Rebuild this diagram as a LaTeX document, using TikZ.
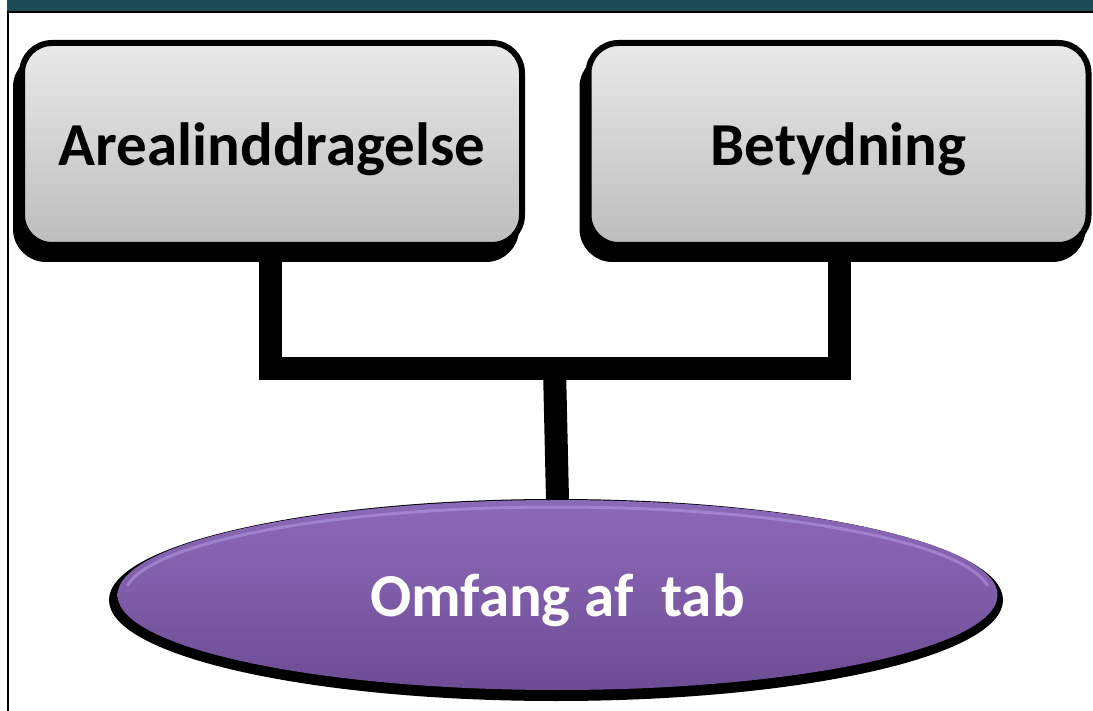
\documentclass[tikz,border=0pt]{standalone}
\usepackage{fontspec}
\setmainfont{Carlito}
\definecolor{barteal}{HTML}{1D4C56}
\definecolor{boxtop}{HTML}{E9E9E9}
\definecolor{boxbot}{HTML}{BDBDBD}
\definecolor{purtop}{HTML}{8A69B8}
\definecolor{purmid}{HTML}{7E5CA8}
\definecolor{purbot}{HTML}{6C4C94}
\definecolor{purrim}{HTML}{B69BE2}
\tikzset{
  topicbox/.style={
    rectangle, rounded corners=30pt, draw=black, line width=6pt,
    top color=boxtop, bottom color=boxbot,
    minimum width=500pt, minimum height=202pt, inner sep=0pt,
    text depth=0pt,
    font=\fontsize{61}{63}\selectfont\bfseries, text=black,
    preaction={fill=black, draw=black, line width=6pt,
      transform canvas={xshift=-6pt, yshift=-14pt}}},
  resultnode/.style={
    ellipse, draw=none, inner sep=0pt, text depth=0pt,
    minimum width=880pt, minimum height=190pt,
    top color=purtop, bottom color=purbot, middle color=purmid,
    font=\fontsize{61}{63}\selectfont\bfseries, text=white},
  link/.style={draw=black, line width=23pt}
}
\usetikzlibrary{shapes.geometric}
\begin{document}
\begin{tikzpicture}[x=1pt, y=-1pt]
  \useasboundingbox (0,0) rectangle (1093,711);
  % title bar and frame
  \fill[barteal] (7,0) rectangle (1093,12);
  \fill[black] (7,11) rectangle (1093,13.5);
  \fill[black] (7,11) rectangle (9.3,711);

  % junction of the tree
  \coordinate (J) at (554.5,368.5);

  % result ellipse with its dark shadow
  \fill[black] (556,600) ellipse [x radius=447, y radius=101];
  \node[resultnode] (E) at (557.5,595) {Omfang af\ \ tab};

  % soft rim light along the upper edge of the ellipse
  \begin{scope}
    \clip (100,480) rectangle (1010,585);
    \draw[purrim, line width=3pt, opacity=0.55] (557.5,596) ellipse [x radius=433, y radius=89];
  \end{scope}

  % connectors, drawn before the boxes so they tuck under them
  \coordinate (Ls) at (270.5,240);
  \coordinate (Rs) at (839.5,240);
  \draw[link] (Ls) |- (J) -| (Rs);
  \draw[link] (J) -- (E.north);

  % the two topic boxes
  \node[topicbox] (L) at (272,144) {Arealinddragelse};
  \node[topicbox] (R) at (838.5,144) {Betydning};
\end{tikzpicture}
\end{document}
